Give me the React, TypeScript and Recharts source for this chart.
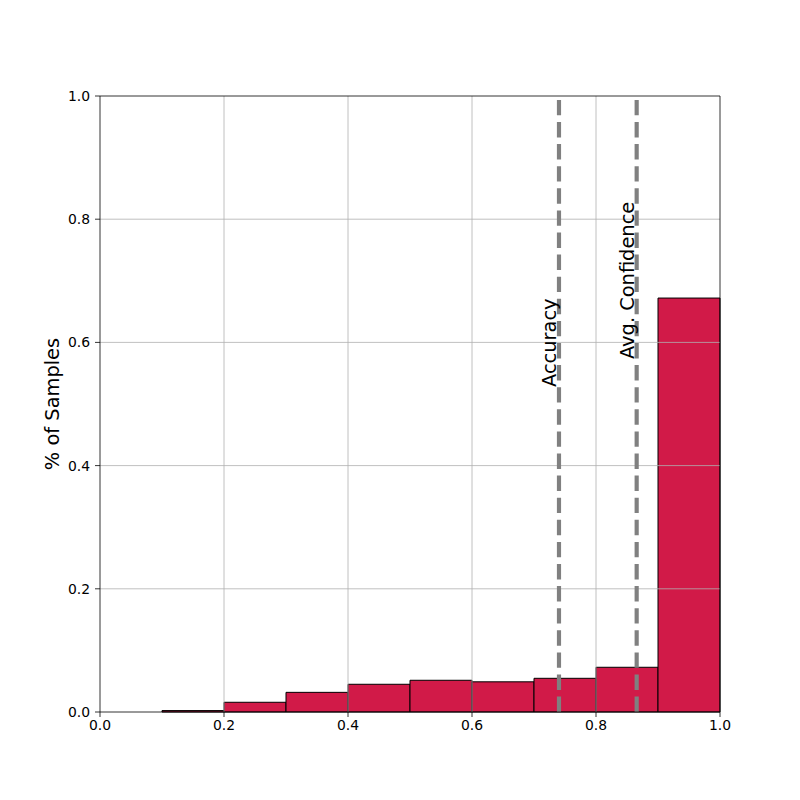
import { ComposedChart, Bar, XAxis, YAxis, ReferenceLine, Label } from 'recharts';

const binCenters = [0.05, 0.15, 0.25, 0.35, 0.45, 0.55, 0.65, 0.75, 0.85, 0.95];
const binShares = [0, 0.0023, 0.0158, 0.0319, 0.045, 0.0515, 0.049, 0.0547, 0.0726, 0.672];
const tickValues = [0, 0.2, 0.4, 0.6, 0.8, 1.0];
const gridValues = [0.2, 0.4, 0.6, 0.8];
const accuracy = 0.7403;
const avgConfidence = 0.8656;

const data = binCenters.map((center, i) => ({ center, share: binShares[i] }));

const FONT = 'DejaVu Sans, sans-serif';

// vertical text label drawn beside a dashed reference line
const sideLabel = (text: string, frac: number) => (props: any) => {
  const vb = props.viewBox;
  if (!vb) return null;
  const x = vb.x - 3;
  const y = vb.y + vb.height * (1 - frac);
  return (
    <text
      x={x}
      y={y}
      transform={`rotate(-90, ${x}, ${y})`}
      textAnchor="start"
      fontFamily={FONT}
      fontSize={19.4}
      fill="#000"
    >
      {text}
    </text>
  );
};

export default function App() {
  return (
    <div style={{ position: 'absolute', left: 0, top: 0, width: 800, height: 800, background: '#fff' }}>
      <ComposedChart
        width={800}
        height={800}
        data={data}
        barCategoryGap={0}
        barGap={0}
        margin={{ top: 96, right: 80, bottom: 58, left: 40 }}
      >
        <XAxis
          dataKey="center"
          type="number"
          domain={[0, 1]}
          ticks={tickValues}
          tickFormatter={(v: number) => v.toFixed(1)}
          height={30}
          tickSize={5}
          tickMargin={3}
          stroke="#000"
          strokeWidth={0.8}
          tick={{ fill: '#000', fontSize: 13.9, fontFamily: FONT }}
        />
        <YAxis
          type="number"
          domain={[0, 1]}
          ticks={tickValues}
          tickFormatter={(v: number) => v.toFixed(1)}
          width={60}
          tickSize={5}
          tickMargin={5}
          stroke="#000"
          strokeWidth={0.8}
          tick={{ fill: '#000', fontSize: 13.9, fontFamily: FONT }}
        >
          <Label
            content={(props: any) => {
              const vb = props.viewBox;
              if (!vb) return null;
              const x = vb.x + 12;
              const y = vb.y + vb.height / 2;
              return (
                <text
                  x={x}
                  y={y}
                  transform={`rotate(-90, ${x}, ${y})`}
                  textAnchor="middle"
                  dominantBaseline="central"
                  fontFamily={FONT}
                  fontSize={19.4}
                  fill="#000"
                >
                  % of Samples
                </text>
              );
            }}
          />
        </YAxis>
        <Bar
          dataKey="share"
          fill="#d11a48"
          stroke="#000"
          strokeWidth={1}
          isAnimationActive={false}
        />
        {gridValues.map((v) => (
          <ReferenceLine key={`gx-${v}`} x={v} stroke="#b0b0b0" strokeWidth={0.8} />
        ))}
        {gridValues.map((v) => (
          <ReferenceLine key={`gy-${v}`} y={v} stroke="#b0b0b0" strokeWidth={0.8} />
        ))}
        <ReferenceLine
          x={accuracy}
          stroke="#808080"
          strokeWidth={4.17}
          strokeDasharray="15.4 6.7"
          label={sideLabel('Accuracy', 0.5276)}
        />
        <ReferenceLine
          x={avgConfidence}
          stroke="#808080"
          strokeWidth={4.17}
          strokeDasharray="15.4 6.7"
          label={sideLabel('Avg. Confidence', 0.573)}
        />
        <ReferenceLine y={1} stroke="#000" strokeWidth={0.8} />
        <ReferenceLine x={1} stroke="#000" strokeWidth={0.8} />
      </ComposedChart>
    </div>
  );
}
